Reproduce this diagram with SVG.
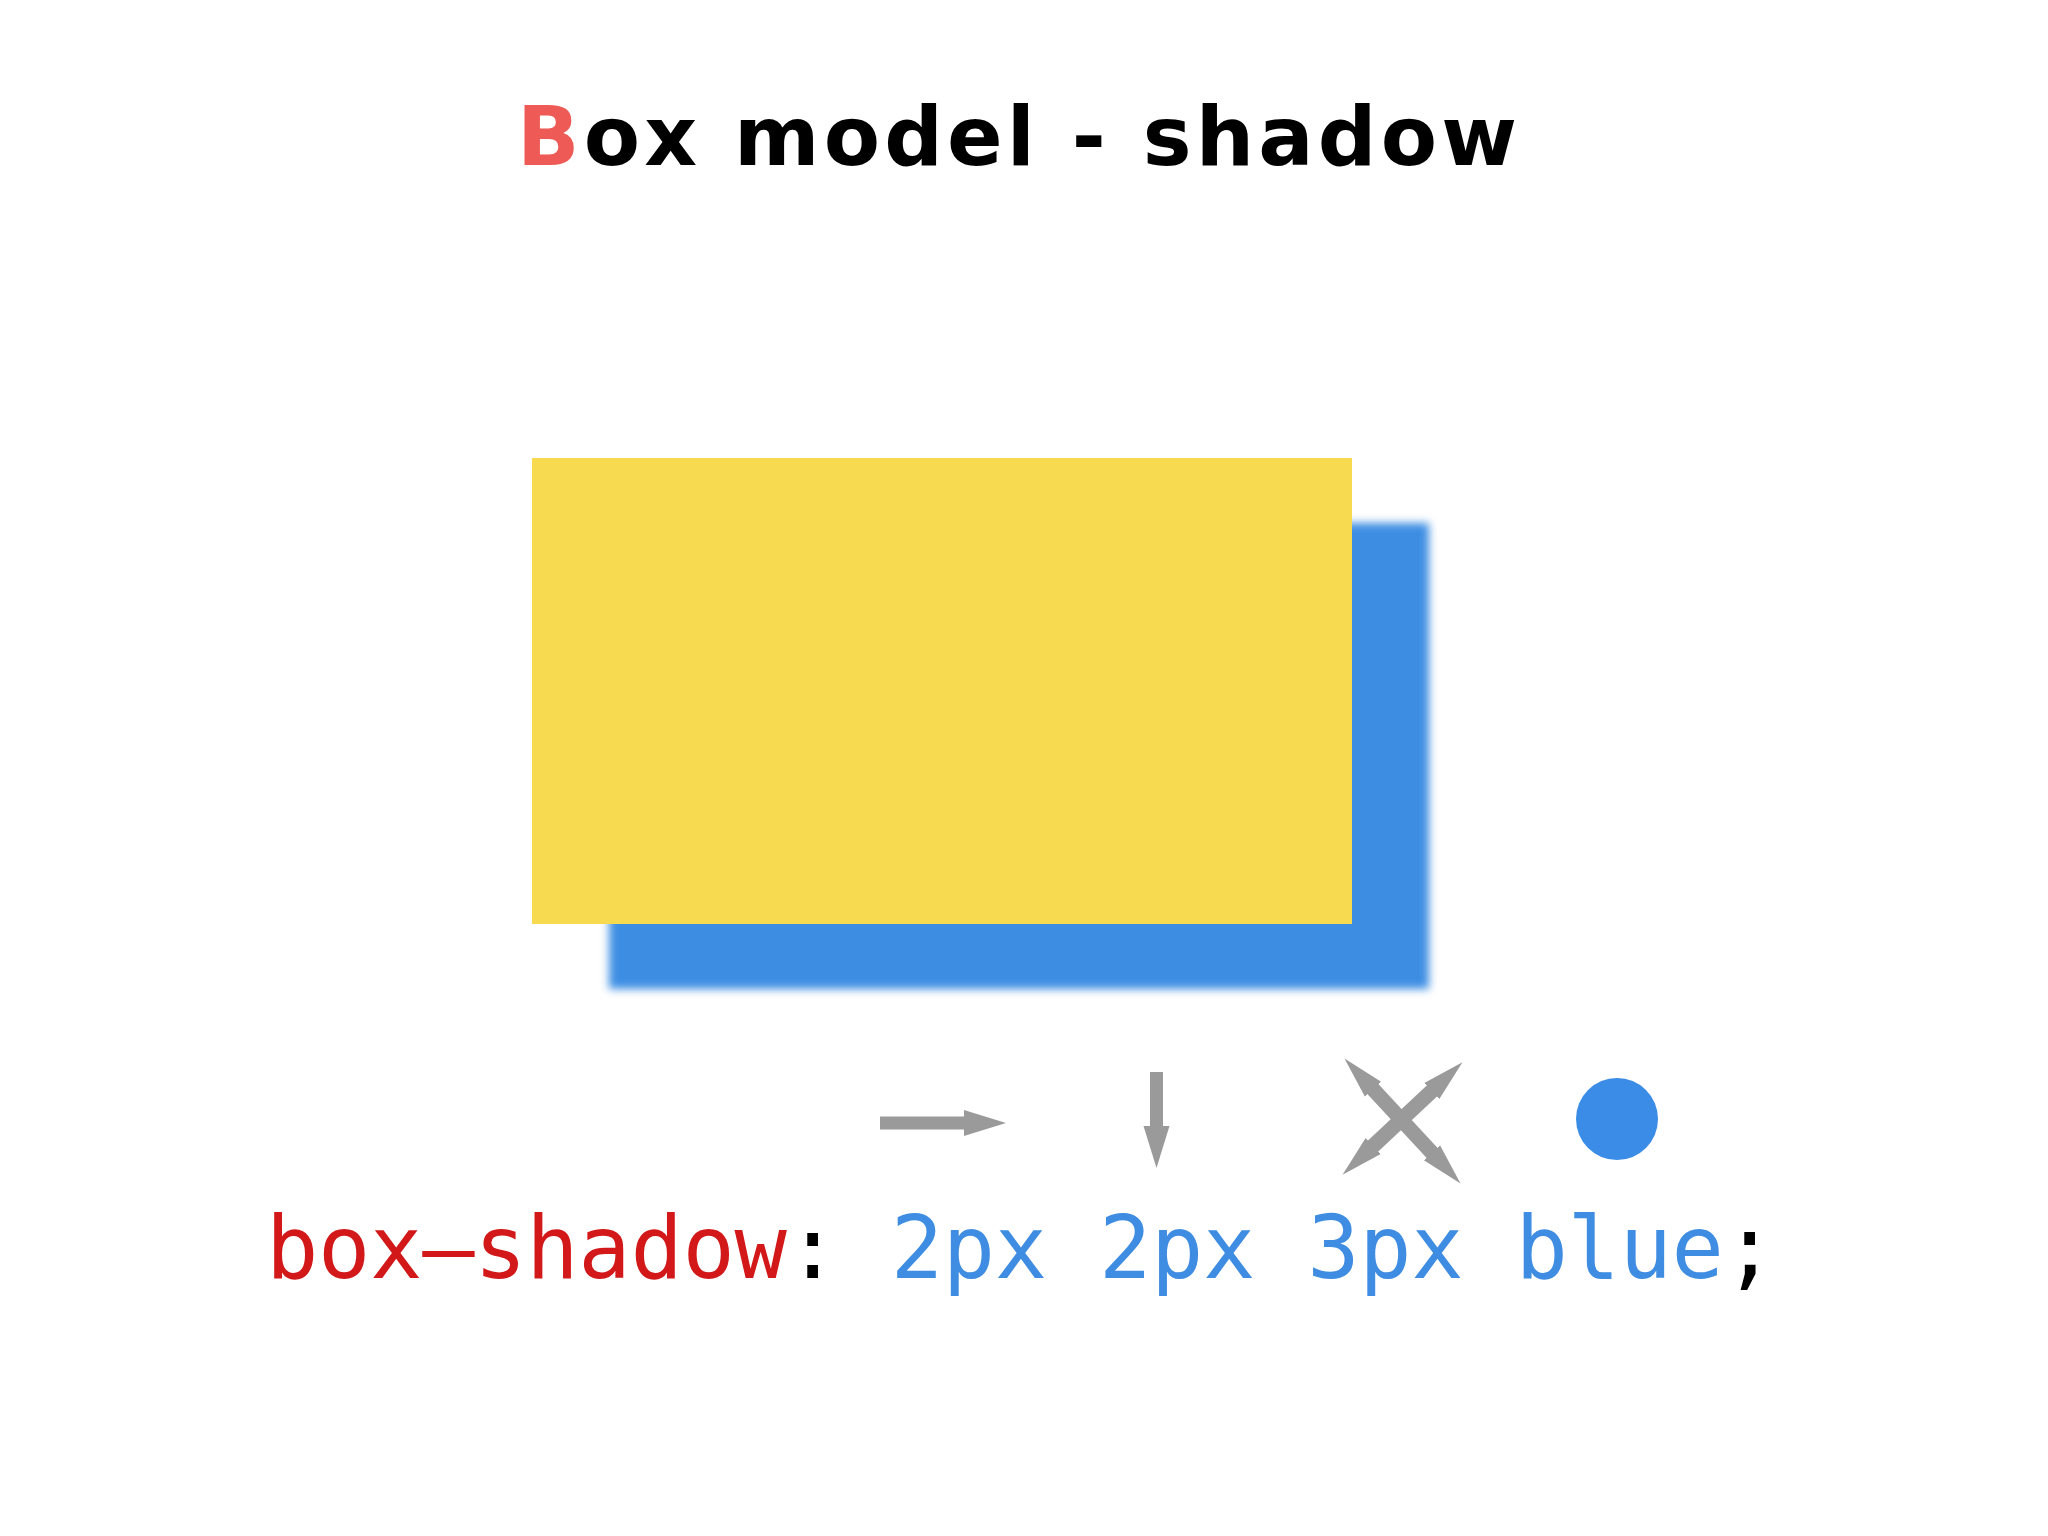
<svg xmlns="http://www.w3.org/2000/svg" width="2048" height="1536" viewBox="0 0 2048 1536">
  <style>
    .title { font-family: "DejaVu Sans", "Liberation Sans", sans-serif; font-weight: bold; font-size: 82px; fill: #000000; }
    .code { font-family: "DejaVu Sans Mono", "Liberation Mono", monospace; font-size: 87px; }
    .prop { fill: #D3181A; }
    .val { fill: #3F8DE2; }
    .punct { fill: #000000; }
    .shaft { stroke: #9A9A9A; stroke-width: 13; fill: none; }
    .xshaft { stroke: #9A9A9A; stroke-width: 15; fill: none; }
  </style>
  <defs>
    <filter id="blur" x="-5%" y="-5%" width="110%" height="110%">
      <feGaussianBlur stdDeviation="4"/>
    </filter>
    <marker id="head" markerUnits="userSpaceOnUse" markerWidth="44" markerHeight="30" refX="0" refY="13" orient="auto-start-reverse" viewBox="0 0 44 26">
      <path d="M0,0 L42,13 L0,26 Z" fill="#9A9A9A"/>
    </marker>
    <marker id="xhead" markerUnits="userSpaceOnUse" markerWidth="44" markerHeight="26" refX="3" refY="11" orient="auto-start-reverse" viewBox="0 0 44 22">
      <path d="M0,0 L42,11 L0,22 Z" fill="#9A9A9A"/>
    </marker>
  </defs>
  <rect width="2048" height="1536" fill="#FFFFFF"/>

  <g id="title">
    <text class="title" x="517" y="165" textLength="1000" lengthAdjust="spacing"><tspan fill="#EE5B56">B</tspan>ox model - shadow</text>
  </g>

  <g id="box-shadow">
    <rect x="609" y="523" width="820" height="466" fill="#3E8EE3" filter="url(#blur)"/>
  </g>
  <g id="box">
    <rect x="532" y="458" width="820" height="466" fill="#F8DA50"/>
  </g>

  <g id="connectors">
    <line class="shaft" x1="880" y1="1123" x2="964" y2="1123" marker-end="url(#head)"/>
    <line class="shaft" x1="1156.5" y1="1072" x2="1156.5" y2="1126" marker-end="url(#head)"/>
    <line class="xshaft" x1="1371" y1="1087" x2="1434" y2="1155" marker-start="url(#xhead)" marker-end="url(#xhead)"/>
    <line class="xshaft" x1="1434" y1="1089" x2="1371" y2="1148" marker-start="url(#xhead)" marker-end="url(#xhead)"/>
  </g>

  <g id="color-dot">
    <circle cx="1617" cy="1119" r="41" fill="#3B8CE6"/>
  </g>

  <g id="code">
    <text class="code" x="266" y="1278" textLength="1510" lengthAdjust="spacing"><tspan class="prop">box–shadow</tspan><tspan class="punct">:</tspan> <tspan class="val">2px</tspan> <tspan class="val">2px</tspan> <tspan class="val">3px</tspan> <tspan class="val">blue</tspan><tspan class="punct">;</tspan></text>
  </g>
</svg>
